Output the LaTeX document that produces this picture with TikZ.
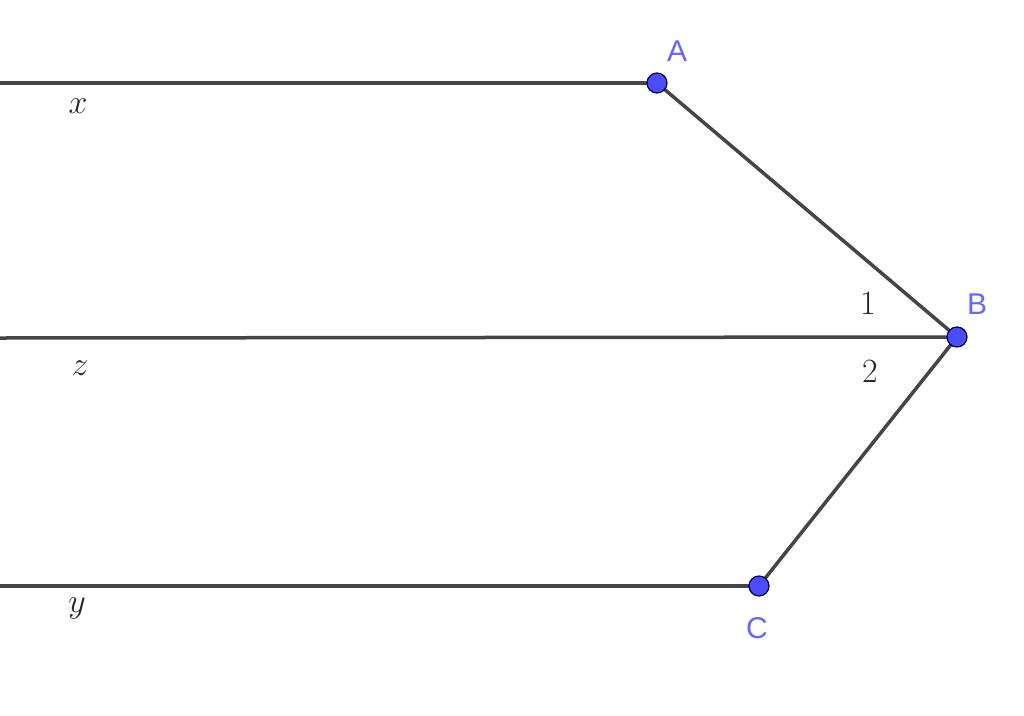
\RequirePackage{fix-cm}
\documentclass[tikz,border=0pt]{standalone}
\usepackage{fontspec}
\setsansfont{Liberation Sans}
\begin{document}
\begin{tikzpicture}[x=1pt,y=-1pt,
  seg/.style={draw=black!73, line width=3.5pt},
  pt/.style={circle, fill=blue!70!white, draw=black!70!blue, line width=1.2pt, minimum size=20pt, inner sep=0pt},
  ptlabel/.style={text=blue!60!white, font=\sffamily\fontsize{30}{34}\selectfont, inner sep=0pt},
  mlabel/.style={text=black!85, font=\fontsize{34}{38}\selectfont, inner sep=0pt}]
\useasboundingbox (0,0) rectangle (1024,715);
\coordinate (xl) at (0,83);
\coordinate (zl) at (0,338);
\coordinate (yl) at (0,586);
\coordinate (Ap) at (657,83);
\coordinate (Bp) at (957,337);
\coordinate (Cp) at (759,586);
\draw[seg] (xl) -- (Ap);
\draw[seg] (zl) -- (Bp);
\draw[seg] (yl) -- (Cp);
\draw[seg] (Ap) -- (Bp) -- (Cp);
\node[pt] (A) at (Ap) {};
\node[pt] (B) at (Bp) {};
\node[pt] (C) at (Cp) {};
\node[ptlabel] (lA) at (677,51) {A};
\node[ptlabel] (lB) at (977,304) {B};
\node[ptlabel] (lC) at (757,628) {C};
\node[mlabel] (lx) at (78,106) {$x$};
\node[mlabel] (lz) at (80,368) {$z$};
\node[mlabel] (ly) at (77,608) {$y$};
\node[mlabel] (l1) at (868,304) {$1$};
\node[mlabel] (l2) at (870,372) {$2$};
\end{tikzpicture}
\end{document}
